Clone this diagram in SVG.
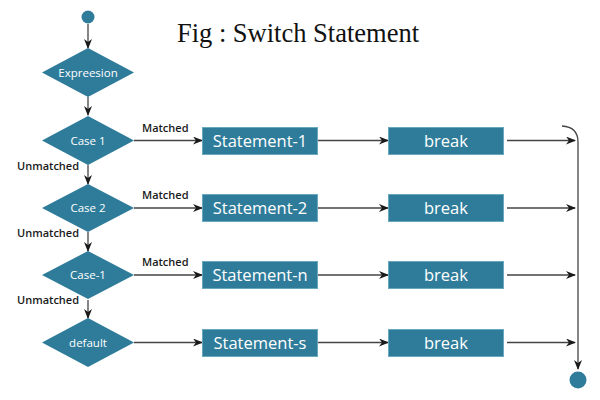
<svg xmlns="http://www.w3.org/2000/svg" width="600" height="400" viewBox="0 0 600 400">
<defs>
<style>
.shape{fill:#2f7c9a;}
.box{fill:#2f7c9a;stroke:#6aa8bf;stroke-width:1;}
.dtext{fill:#fff;font-family:"Open Sans","DejaVu Sans",sans-serif;font-size:11.5px;text-anchor:middle;}
.btext{fill:#fff;font-family:"Open Sans","DejaVu Sans",sans-serif;font-size:16.5px;text-anchor:middle;}
.lbl{fill:#1a1a1a;font-family:"Open Sans","DejaVu Sans",sans-serif;font-size:11px;font-weight:600;}
.conn{stroke:#444;stroke-width:1.3;fill:none;}
.arr{marker-end:url(#ah);}
</style>
<marker id="ah" markerWidth="10" markerHeight="8" refX="9" refY="4" orient="auto" markerUnits="userSpaceOnUse">
<path d="M0,0 L10,4 L0,8 L3,4 Z" fill="#1a1a1a"/>
</marker>
</defs>
<rect width="600" height="400" fill="#fff"/>
<text x="298" y="42" font-family="'Liberation Serif','Times New Roman',serif" font-size="26.5" fill="#111" text-anchor="middle">Fig : Switch Statement</text>

<g id="connectors">
<path class="conn arr" d="M88,24 L88,48"/>
<path class="conn arr" d="M88,97 L88,115"/>
<path class="conn arr" d="M88,165 L88,184"/>
<path class="conn arr" d="M88,232 L88,251"/>
<path class="conn arr" d="M88,300 L88,318"/>
<path class="conn arr" d="M134,140.5 L202,140.5"/>
<path class="conn arr" d="M134,208 L202,208"/>
<path class="conn arr" d="M134,275 L202,275"/>
<path class="conn arr" d="M134,342.5 L202,342.5"/>
<path class="conn arr" d="M318,140.5 L388,140.5"/>
<path class="conn arr" d="M318,208 L388,208"/>
<path class="conn arr" d="M318,275 L388,275"/>
<path class="conn arr" d="M318,342.5 L388,342.5"/>
<path class="conn arr" d="M507,140.5 L575,140.5"/>
<path class="conn arr" d="M507,208 L575,208"/>
<path class="conn arr" d="M507,275 L575,275"/>
<path class="conn arr" d="M507,342.5 L575,342.5"/>
<path class="conn arr" d="M562,126 Q578,127 578,142 L578,369"/>
<text class="lbl" x="142" y="132">Matched</text>
<text class="lbl" x="142" y="199">Matched</text>
<text class="lbl" x="142" y="266">Matched</text>
<text class="lbl" x="17" y="170">Unmatched</text>
<text class="lbl" x="17" y="237">Unmatched</text>
<text class="lbl" x="17" y="304">Unmatched</text>
</g>

<g id="start"><circle class="shape" cx="88" cy="17" r="6.5"/></g>
<g id="end"><circle class="shape" cx="578" cy="380" r="8.5"/></g>

<g id="expression"><polygon class="shape" points="88,48 134,72.5 88,97 42,72.5"/><text class="dtext" x="88" y="76.5">Expreesion</text></g>
<g id="case1"><polygon class="shape" points="88,116 134,140.5 88,165 42,140.5"/><text class="dtext" x="88" y="144.5">Case 1</text></g>
<g id="case2"><polygon class="shape" points="88,184 134,208 88,232 42,208"/><text class="dtext" x="88" y="212">Case 2</text></g>
<g id="casen"><polygon class="shape" points="88,251 134,275 88,299 42,275"/><text class="dtext" x="88" y="279">Case-1</text></g>
<g id="default"><polygon class="shape" points="88,318 134,342.5 88,367 42,342.5"/><text class="dtext" x="88" y="346.5">default</text></g>

<g id="stmt1"><rect class="box" x="202.5" y="127.5" width="115" height="27"/><text class="btext" x="260" y="147">Statement-1</text></g>
<g id="stmt2"><rect class="box" x="202.5" y="194.5" width="115" height="27"/><text class="btext" x="260" y="214">Statement-2</text></g>
<g id="stmtn"><rect class="box" x="202.5" y="261.5" width="115" height="27"/><text class="btext" x="260" y="281">Statement-n</text></g>
<g id="stmts"><rect class="box" x="202.5" y="329.5" width="115" height="27"/><text class="btext" x="260" y="349">Statement-s</text></g>

<g id="break1"><rect class="box" x="388.5" y="127.5" width="115" height="27"/><text class="btext" x="446" y="147">break</text></g>
<g id="break2"><rect class="box" x="388.5" y="194.5" width="115" height="27"/><text class="btext" x="446" y="214">break</text></g>
<g id="breakn"><rect class="box" x="388.5" y="261.5" width="115" height="27"/><text class="btext" x="446" y="281">break</text></g>
<g id="breaks"><rect class="box" x="388.5" y="329.5" width="115" height="27"/><text class="btext" x="446" y="349">break</text></g>
</svg>
